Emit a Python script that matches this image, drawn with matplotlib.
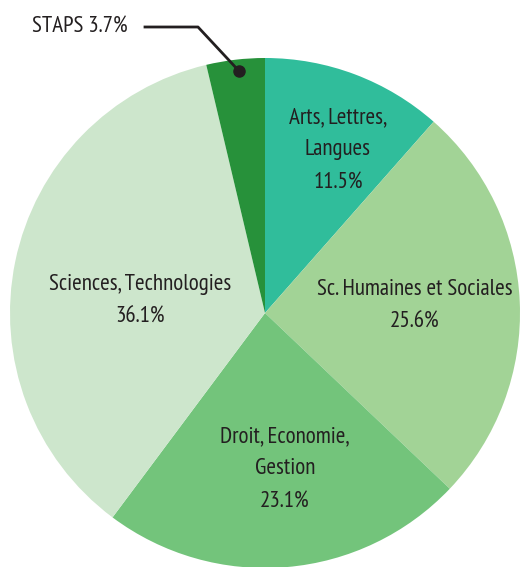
import matplotlib.pyplot as plt
from matplotlib import font_manager

# Data
labels = ['Arts, Lettres,\nLangues', 'Sc. Humaines et Sociales', 'Droit, Economie,\nGestion',
          'Sciences, Technologies', 'STAPS']
shares = [11.5, 25.6, 23.1, 36.1, 3.7]
colors = ['#30bd9b', '#a2d396', '#73c47b', '#cde6cc', '#27913a']

# condensed font, close to the original's Myriad Condensed
available = {f.name for f in font_manager.fontManager.ttflist}
prefs = ['PT Sans Narrow', 'Fira Sans Condensed', 'Roboto Condensed', 'Open Sans Condensed',
         'Encode Sans Condensed', 'Archivo Narrow', 'Asap Condensed', 'Liberation Sans Narrow']
chosen = [f for f in prefs if f in available][:1]
plt.rcParams['font.family'] = chosen + ['DejaVu Sans']

W, H = 520, 567
fig = plt.figure(figsize=(W / 100, H / 100), dpi=100)
ax = fig.add_axes([0, 0, 1, 1])

cx, cy, r = 265, H - 313, 255
ax.pie(shares, colors=colors, startangle=90, counterclock=False,
       center=(cx, cy), radius=r, frame=True)
ax.set_xlim(0, W)
ax.set_ylim(0, H)
ax.set_aspect('equal')
ax.axis('off')

fs = 16.6
txt = dict(ha='center', va='center', fontsize=fs, color='#231f20', linespacing=1.7)
label_pos = {0: (338, 150), 1: (415, 306), 2: (285, 469), 3: (140, 301)}
for i, (x, y) in label_pos.items():
    ax.text(x, H - y, f'{labels[i]}\n{shares[i]}%', **txt)

# STAPS callout
ax.text(128, H - 26, f'{labels[4]} {shares[4]}%', ha='right', va='center',
        fontsize=fs, color='#231f20')
ax.plot([145, 198, 239], [H - 27, H - 27, H - 71], color='#231f20', lw=2)
ax.plot([239], [H - 71], 'o', color='#231f20', ms=8)

fig.savefig('out.png', dpi=100)
